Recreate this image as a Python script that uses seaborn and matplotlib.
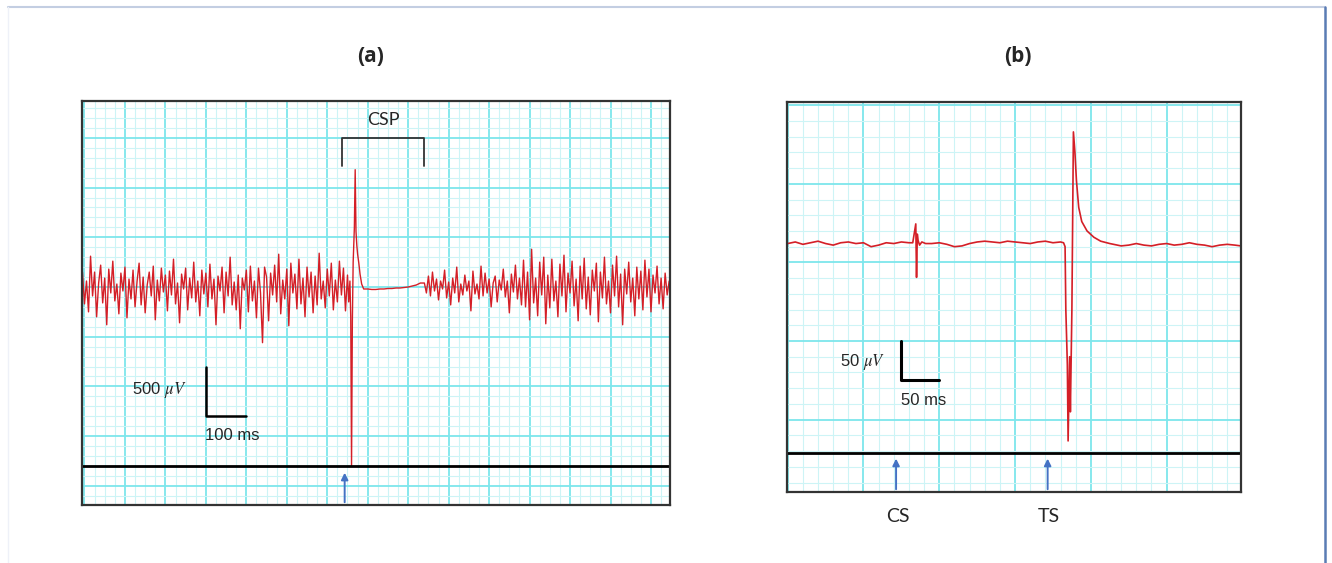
import matplotlib
matplotlib.use("Agg")
import matplotlib.pyplot as plt
from matplotlib.lines import Line2D
import numpy as np
import pandas as pd
import seaborn as sns

# ---- panel (a): cortical silent period trace (ms, uV) ----
pre_t0, step = -5, 5
noise_pre = [
    150, -170, 60, -250, 310, -90, 150, -300, 40, 220, -160, 90, -380, 180, -60, 260, -140, 30, -270, 140,
    -40, 200, -310, 80, -120, 170, -200, 60, 240, -180, 100, -260, 20, 150, -90, 210, -330, 70, -140, 190,
    -50, 120, -240, 160, -80, 280, -170, 40, -360, 130, -20, 190, -230, 90, -110, 250, -150, 60, -290, 170,
    -70, 140, -200, 230, -120, 80, -380, 110, -40, 200, -260, 150, -90, 300, -180, 50, -230, 120, -420, 90,
    -30, 170, -250, 210, -140, 60, -310, 190, -60, -560, 200, 100, -340, 140, -80, 220, -150, 330, -270, 70,
    -120, 180, -390, 240, -60, 130, -220, 280, -170, 90, -300, 200, -100, 150, -260, 110, -180, 340, -120, 60,
    -210, 180, -90, 240, -230, 70, -150, 260, -80, 190, -240, 120,
]
mep_t = [653, 656, 658, 660, 662, 664, 667, 669, 671, 673, 675, 678, 681, 685, 690]
mep_v = [-150, 60, -300, -1800, -350, 250, 600, 1180, 560, 420, 330, 240, 130, 30, -20]
silent_t = [700, 710, 720, 730, 740, 750, 760, 770, 780, 790, 800, 810, 820, 830]
silent_v = [-20, -25, -25, -20, -20, -15, -15, -10, -10, -5, 0, 10, 20, 40]
post_t0 = 840
noise_post = [
    40, -60, 110, -90, 150, -40, 80, -130, 60, -20, 170, -110, 50, -180, 90, -60, 200, -150, 30, -80,
    120, -40, 60, -240, 160, -70, 30, -120, 210, -90, 140, -60, 80, -200, 40, 110, -150, 70, -30, 180,
    -100, 60, -260, 130, -50, 220, -120, 90, -180, 270,
    -200, 150, -330, 380, -160, 90, -290, 250, -80, 300, -370, 120, -210, 280, -140, 60, -300, 230, -90, 320,
    -250, 140, -60, 260, -190, 80, -340, 210, -120, 290, -220, 100, -280, 170, -40, 240, -350, 150, -110, 300,
    -170, 60, -260, 220, -90, 310, -200, 130, -380, 180, -70, 250, -150, 90, -290, 200, -120, 160, -230, 270,
    -100, 180, -250, 120, -60, 210, -170, 90, -220, 140, -80, 60,
]
stim_a = 643
csp_span = [637, 840]

# ---- panel (b): paired-pulse trace (ms, uV) ----
base1_t = [0, 10, 20, 30, 40, 50, 60, 70, 80, 90, 100, 110, 120, 130, 140, 150, 160]
base1_v = [24, 26, 23, 25, 27, 24, 22, 25, 26, 24, 25, 20, 22, 25, 24, 26, 25]
cs_t = [165, 169, 170, 171, 172, 174, 177, 182]
cs_v = [25, 49, -19, 36, 28, 22, 26, 24]
base2_t = [190, 200, 210, 220, 230, 240, 250, 260, 270, 280, 290, 300, 310, 320, 330, 340, 350, 360]
base2_v = [24, 25, 23, 20, 21, 24, 26, 27, 26, 25, 27, 26, 25, 24, 26, 27, 25, 26]
ts_t = [364, 366, 367, 369, 370, 372, 373, 375, 377, 379, 381, 384, 388, 395, 404, 413, 425]
ts_v = [25, 20, -60, -130, -227, -120, -190, -60, 166, 140, 104, 70, 52, 40, 32, 27, 24]
base3_t = [430, 440, 450, 460, 470, 480, 490, 500, 510, 520, 530, 540, 550, 560, 570, 580, 590, 598]
base3_v = [23, 21, 22, 24, 22, 21, 23, 24, 22, 23, 25, 23, 22, 20, 22, 23, 22, 21]
stim_cs, stim_ts = 143, 343

trace_a = pd.DataFrame({
    "t": list(pre_t0 + step * np.arange(len(noise_pre))) + mep_t + silent_t
         + list(post_t0 + step * np.arange(len(noise_post))),
    "v": noise_pre + mep_v + silent_v + noise_post,
})
trace_b = pd.DataFrame({
    "t": base1_t + cs_t + base2_t + ts_t + base3_t,
    "v": base1_v + cs_v + base2_v + ts_v + base3_v,
})

sns.set_style("white")
plt.rcParams["font.family"] = ["Liberation Sans", "DejaVu Sans"]
plt.rcParams["mathtext.fontset"] = "stix"

RED = "#d41f27"
BLUE = "#4472c4"
MAJ = "#7de6ec"
MIN = "#cdf4f6"

fig = plt.figure(figsize=(13.32, 5.63), dpi=100)
ax_a = fig.add_axes([0.0616, 0.1030, 0.4414, 0.7176])
ax_b = fig.add_axes([0.5908, 0.1261, 0.3408, 0.6927])


def paper(ax, xlim, ylim, xmaj, xmin, ymaj, ymin):
    ax.set_xticks(np.arange(0, xlim[1], xmaj))
    ax.set_xticks(np.arange(xlim[0] // xmin * xmin, xlim[1], xmin), minor=True)
    ax.set_yticks(np.arange(ylim[0] // ymaj * ymaj, ylim[1], ymaj))
    ax.set_yticks(np.arange(ylim[0] // ymin * ymin, ylim[1], ymin), minor=True)
    ax.set_xlim(*xlim)
    ax.set_ylim(*ylim)
    ax.grid(which="minor", color=MIN, lw=0.8)
    ax.grid(which="major", color=MAJ, lw=1.3)
    ax.set_axisbelow(True)
    ax.tick_params(which="both", length=0, labelbottom=False, labelleft=False)
    ax.set_xlabel("")
    ax.set_ylabel("")
    for s in ax.spines.values():
        s.set_color("#333333")
        s.set_linewidth(1.6)


sns.lineplot(data=trace_a, x="t", y="v", ax=ax_a, color=RED, lw=1.0,
             estimator=None, sort=False)
paper(ax_a, (-6, 1447), (-2193, 1871), 100, 25, 500, 100)
ax_a.axhline(-1801, color="black", lw=2)
ax_a.annotate("", xy=(stim_a, -1840), xytext=(stim_a, -2193),
              arrowprops=dict(arrowstyle="-|>", color=BLUE, lw=1.4, mutation_scale=10))
# CSP bracket
ax_a.plot([csp_span[0], csp_span[0], csp_span[1], csp_span[1]], [1217, 1500, 1500, 1217],
          color="#333333", lw=1.3)
ax_a.text(sum(csp_span) / 2, 1680, "CSP", ha="center", va="center", fontsize=13,
          family=["Lato", "DejaVu Sans"])
# scale bar
ax_a.plot([300, 300, 400], [-800, -1300, -1300], color="black", lw=1.8)
ax_a.text(253, -1036, r"500 $\mu V$", ha="right", va="center", fontsize=12)
ax_a.text(298, -1489, "100 ms", ha="left", va="center", fontsize=12)

sns.lineplot(data=trace_b, x="t", y="v", ax=ax_b, color=RED, lw=1.2,
             estimator=None, sort=False)
paper(ax_b, (-1, 598), (-292, 204), 100, 20, 100, 20)
ax_b.axhline(-242, color="black", lw=2)
for st in (stim_cs, stim_ts):
    ax_b.annotate("", xy=(st, -246), xytext=(st, -292),
                  arrowprops=dict(arrowstyle="-|>", color=BLUE, lw=1.4, mutation_scale=10))
ax_b.plot([150, 150, 200], [-100, -150, -150], color="black", lw=2.2)
ax_b.text(129, -127, r"50 $\mu V$", ha="right", va="center", fontsize=12)
ax_b.text(149, -175, "50 ms", ha="left", va="center", fontsize=12)

# stimulus labels and panel titles
fig.text(898 / 1332, 1 - 517 / 563, "CS", ha="center", va="center", fontsize=14,
         family=["Lato", "DejaVu Sans"])
fig.text(1049 / 1332, 1 - 517 / 563, "TS", ha="center", va="center", fontsize=14,
         family=["Lato", "DejaVu Sans"])
fig.text(371 / 1332, 1 - 57 / 563, "(a)", ha="center", va="center", fontsize=15,
         fontweight="bold", family=["Open Sans", "DejaVu Sans"])
fig.text(1018 / 1332, 1 - 57 / 563, "(b)", ha="center", va="center", fontsize=15,
         fontweight="bold", family=["Open Sans", "DejaVu Sans"])

# page border
fig.add_artist(Line2D([8 / 1332, 1325 / 1332], [1 - 7 / 563] * 2, color="#c3cee2", lw=1.5))
fig.add_artist(Line2D([1325 / 1332] * 2, [0, 1 - 7 / 563], color="#5a7cb4", lw=1.8))
fig.add_artist(Line2D([8 / 1332] * 2, [0, 1 - 7 / 563], color="#eef1f8", lw=1))

fig.savefig("out.png", dpi=100)
